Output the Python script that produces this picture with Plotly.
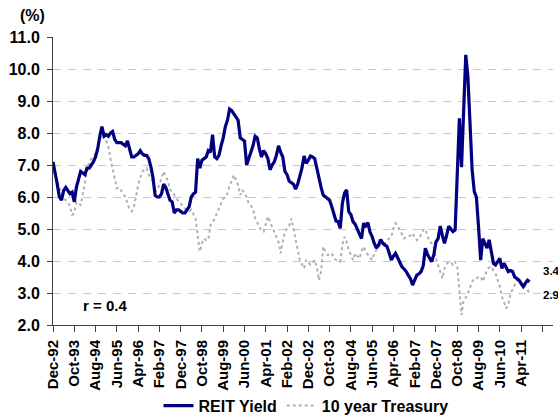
import plotly.graph_objects as go

# Monthly observations, Dec-1992 .. Aug-2011 (index 0 = Dec-92)
reit_yield = [
    7.10, 6.80, 6.40, 6.00, 5.90, 6.20, 6.30, 6.20, 6.10, 6.15, 5.85, 6.30,
    6.60, 6.80, 6.75, 6.70, 6.90, 6.90, 7.00, 7.10, 7.25, 7.50, 7.90, 8.20,
    7.90, 7.95, 7.90, 8.00, 8.05, 7.80, 7.70, 7.70, 7.70, 7.65, 7.60, 7.75,
    7.50, 7.25, 7.25, 7.30, 7.35, 7.45, 7.35, 7.30, 7.30, 7.20, 6.95, 6.60,
    6.05, 6.00, 6.00, 6.10, 6.40, 6.30, 6.10, 5.90, 5.85, 5.50, 5.60, 5.60,
    5.55, 5.50, 5.50, 5.60, 5.70, 6.00, 6.10, 6.15, 7.20, 6.90, 7.15, 7.20,
    7.25, 7.45, 7.40, 7.95, 7.25, 7.20, 7.30, 7.60, 7.85, 8.20, 8.40, 8.75,
    8.70, 8.60, 8.50, 8.40, 7.85, 7.80, 7.75, 7.00, 7.20, 7.40, 7.60, 7.90,
    7.85, 7.50, 7.25, 7.45, 7.35, 7.20, 6.85, 7.00, 7.10, 7.30, 7.60, 7.40,
    7.25, 6.80, 6.70, 6.50, 6.45, 6.40, 6.25, 6.40, 6.65, 6.90, 7.28, 7.05,
    7.15, 7.28, 7.25, 7.20, 6.90, 6.55, 6.30, 6.06, 6.00, 5.95, 5.90, 5.70,
    5.50, 5.25, 5.23, 5.02, 5.80, 6.12, 6.22, 5.54, 5.45, 5.23, 5.15, 5.02,
    4.85, 4.70, 5.18, 5.10, 5.20, 4.90, 4.76, 4.55, 4.40, 4.50, 4.67, 4.55,
    4.50, 4.45, 4.25, 4.03, 4.15, 4.24, 4.10, 3.95, 3.82, 3.75, 3.67, 3.55,
    3.45, 3.25, 3.40, 3.56, 3.60, 3.67, 3.85, 4.40, 4.20, 4.08, 3.98, 4.20,
    4.60, 4.70, 5.09, 4.80, 4.55, 4.80, 5.09, 5.00, 4.92, 4.97, 6.50, 8.46,
    6.93, 8.80, 10.44, 9.76, 8.00, 6.84, 6.17, 6.00, 5.07, 4.03, 4.70, 4.55,
    4.40, 4.66, 4.30, 3.93, 3.88, 4.00, 4.08, 3.77, 3.93, 3.80, 3.67, 3.70,
    3.67, 3.50, 3.45, 3.40, 3.30, 3.20, 3.30, 3.40, 3.35,
]

treasury_10y = [
    6.80, 6.70, 6.48, 6.30, 6.10, 5.95, 5.90, 5.85, 5.70, 5.44, 5.50, 5.85,
    5.80, 5.75, 6.10, 6.48, 6.80, 7.10, 7.20, 7.30, 7.36, 7.60, 7.83, 7.95,
    7.90, 7.75, 7.58, 7.20, 6.90, 6.64, 6.27, 6.30, 6.20, 6.10, 6.00, 5.80,
    5.60, 5.55, 5.70, 6.00, 6.37, 6.60, 6.80, 6.85, 6.90, 6.70, 6.60, 6.48,
    6.17, 6.25, 6.37, 6.60, 6.80, 6.65, 6.50, 6.22, 6.17, 6.06, 5.95, 5.85,
    5.80, 5.70, 5.64, 5.60, 5.55, 5.60, 5.45, 5.33, 4.81, 4.29, 4.55, 4.70,
    4.65, 4.66, 5.12, 5.20, 5.33, 5.50, 5.64, 5.80, 5.95, 6.00, 6.11, 6.37,
    6.50, 6.69, 6.50, 6.37, 6.06, 6.22, 6.10, 6.00, 5.80, 5.70, 5.64, 5.33,
    5.20, 5.07, 4.95, 4.92, 5.20, 5.39, 5.23, 5.05, 4.92, 4.75, 4.60, 4.24,
    4.60, 4.92, 5.02, 5.10, 5.33, 5.02, 4.70, 4.45, 4.03, 3.90, 3.77, 4.03,
    3.95, 3.88, 3.95, 4.03, 3.80, 3.40, 3.67, 4.45, 4.30, 4.19, 4.20, 4.24,
    4.10, 4.03, 4.00, 3.98, 4.50, 4.76, 4.60, 4.34, 4.20, 4.03, 4.24, 4.15,
    4.08, 4.30, 4.45, 4.30, 4.19, 4.10, 4.03, 4.25, 4.34, 4.45, 4.50, 4.50,
    4.55, 4.66, 4.70, 4.76, 5.02, 5.18, 5.10, 4.97, 4.85, 4.70, 4.75, 4.76,
    4.80, 4.87, 4.75, 4.65, 4.70, 4.85, 4.97, 5.00, 4.76, 4.60, 4.55, 4.40,
    4.08, 3.90, 3.67, 3.45, 3.77, 3.90, 3.98, 3.95, 3.88, 3.98, 3.82, 3.09,
    2.31, 2.78, 2.85, 2.99, 3.20, 3.35, 3.45, 3.45, 3.50, 3.51, 3.36, 3.55,
    3.72, 3.80, 3.82, 3.70, 3.61, 3.40, 3.20, 2.89, 2.70, 2.52, 2.63, 2.99,
    3.10, 3.25, 3.40, 3.35, 3.25, 3.30, 3.20, 3.09, 2.99,
]

tick_labels = ["Dec-92", "Oct-93", "Aug-94", "Jun-95", "Apr-96", "Feb-97",
               "Dec-97", "Oct-98", "Aug-99", "Jun-00", "Apr-01", "Feb-02",
               "Dec-02", "Oct-03", "Aug-04", "Jun-05", "Apr-06", "Feb-07",
               "Dec-07", "Oct-08", "Aug-09", "Jun-10", "Apr-11", ""]
y_ticks = [2.0, 3.0, 4.0, 5.0, 6.0, 7.0, 8.0, 9.0, 10.0, 11.0]
corr_text = "r = 0.4"
end_labels = ["3.4", "2.9"]

months = list(range(len(reit_yield)))
tick_pos = [10 * i for i in range(len(tick_labels))]

FONT = "Liberation Sans, Arial, sans-serif"

fig = go.Figure()
fig.add_trace(go.Scatter(
    x=months, y=treasury_10y, name="10 year Treasury", mode="lines",
    line=dict(color="#b0b0b0", width=2, dash="dot"),
))
fig.add_trace(go.Scatter(
    x=months, y=reit_yield, name="REIT Yield", mode="lines",
    line=dict(color="#000080", width=3.2),
))

fig.update_layout(
    width=558, height=419,
    margin=dict(l=53, r=5, t=37, b=94, autoexpand=False),
    paper_bgcolor="white", plot_bgcolor="white",
    font=dict(family=FONT, size=14, color="black", weight="bold"),
    showlegend=True,
    legend=dict(orientation="h", x=0.506, xanchor="center", y=-0.28,
                yanchor="middle", traceorder="reversed",
                font=dict(size=16, weight="bold"), itemwidth=30,
                bgcolor="rgba(0,0,0,0)"),
    xaxis=dict(range=[0, 235], tickmode="array", tickvals=tick_pos,
               ticktext=tick_labels, tickangle=-90, ticks="outside",
               ticklen=6, tickcolor="#404040", showline=True,
               linecolor="#404040", linewidth=1, showgrid=False,
               zeroline=False, automargin=False, ticklabelstandoff=2,
               tickfont=dict(size=15, weight="bold")),
    yaxis=dict(range=[2, 11], tickmode="array", tickvals=y_ticks,
               tickformat=".1f", ticks="outside", ticklen=5,
               tickcolor="#404040", showline=True, linecolor="#404040",
               linewidth=1, showgrid=True, gridcolor="#c8c8c8",
               griddash="8px,7px", gridwidth=1, zeroline=False,
               automargin=False, ticklabelstandoff=4,
               tickfont=dict(size=16, weight="bold")),
    annotations=[
        dict(text="(%)", xref="paper", yref="paper", x=-0.042, y=1.073,
             showarrow=False, xanchor="center", yanchor="middle",
             font=dict(size=16, weight="bold")),
        dict(text=corr_text, x=24.5, y=2.62, showarrow=False,
             xanchor="center", yanchor="middle",
             font=dict(size=15, weight="bold")),
        dict(text=end_labels[0], xref="paper", x=0.976, y=3.68,
             showarrow=False, xanchor="left", yanchor="middle",
             font=dict(size=11.5, weight="bold")),
        dict(text=end_labels[1], xref="paper", x=0.976, y=2.93,
             showarrow=False, xanchor="left", yanchor="middle",
             font=dict(size=11.5, weight="bold")),
    ],
)

fig.write_html(
    "out.html",
    config={"displayModeBar": False},
    post_script="document.body.style.margin='0';document.body.style.overflow='hidden';",
)
